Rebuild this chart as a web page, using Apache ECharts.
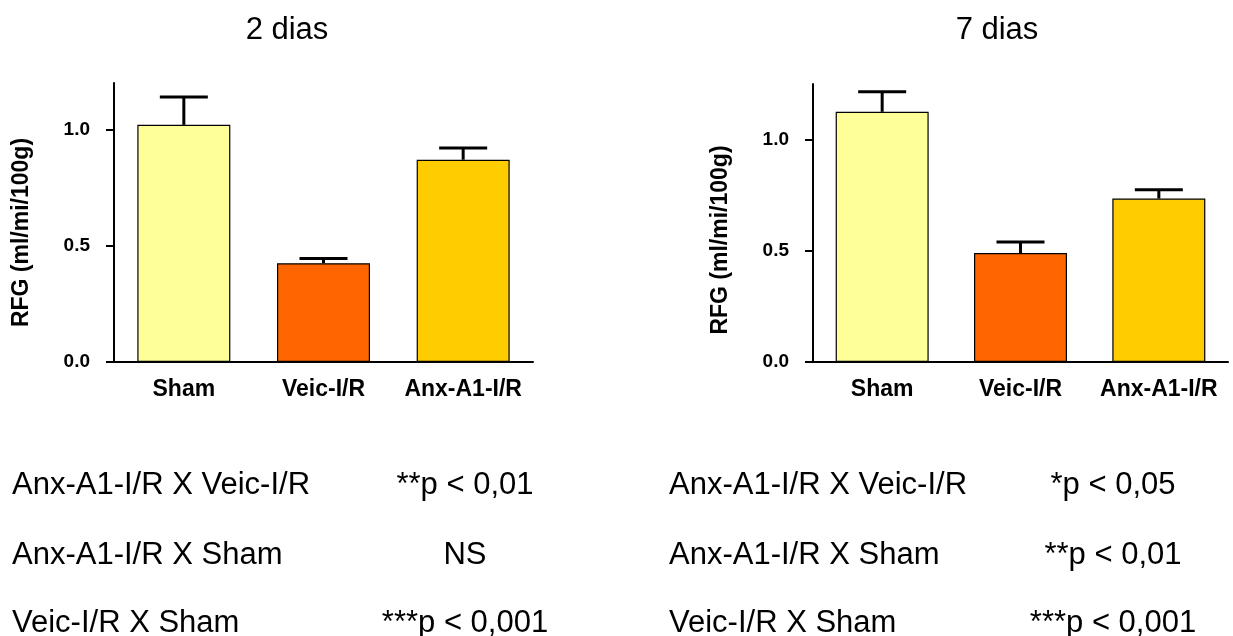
<!DOCTYPE html>
<html>
<head>
<meta charset="utf-8">
<script src="https://cdn.jsdelivr.net/npm/echarts@6/dist/echarts.min.js"></script>
<style>
  html, body { margin: 0; padding: 0; background: #fff; }
  #chart { width: 1233px; height: 636px; }
</style>
</head>
<body>
<div id="chart"></div>
<script>
// Groups and measured glomerular filtration rate (mean and SEM)
const categories = ['Sham', 'Veic-I/R', 'Anx-A1-I/R'];
const mean2d = [1.02, 0.425, 0.87];
const sem2d = [0.12, 0.02, 0.05];
const mean7d = [1.125, 0.49, 0.735];
const sem7d = [0.09, 0.05, 0.04];
const barColors = ['#FFFF99', '#FF6600', '#FFCC00'];
const yTicks = [0, 0.5, 1.0];
const panelTitles = ['2 dias', '7 dias'];
const yAxisName = 'RFG (ml/mi/100g)';

// Statistical comparisons listed below each panel
const comparisons = ['Anx-A1-I/R X Veic-I/R', 'Anx-A1-I/R X Sham', 'Veic-I/R X Sham'];
const pValues2d = ['**p < 0,01', 'NS', '***p < 0,001'];
const pValues7d = ['*p < 0,05', '**p < 0,01', '***p < 0,001'];

const FONT = "'Liberation Sans', Arial, Helvetica, sans-serif";

function renderErrorBar(params, api) {
  const base = api.coord([api.value(0), api.value(1)]);
  const top = api.coord([api.value(0), api.value(2)]);
  const half = 24;
  const style = { stroke: '#000', lineWidth: 3, fill: null };
  return {
    type: 'group',
    children: [
      { type: 'line', shape: { x1: base[0], y1: base[1], x2: top[0], y2: top[1] }, style: style },
      { type: 'line', shape: { x1: top[0] - half, y1: top[1], x2: top[0] + half, y2: top[1] }, style: style }
    ]
  };
}

function xAxisFor(gridIndex) {
  return {
    type: 'category',
    gridIndex: gridIndex,
    data: categories,
    axisLine: { lineStyle: { color: '#000', width: 2 } },
    axisTick: { show: false },
    axisLabel: {
      interval: 0, margin: 16, color: '#000',
      fontFamily: FONT, fontSize: 23, fontWeight: 'bold'
    }
  };
}

function yAxisFor(gridIndex, max, namePad) {
  return {
    type: 'value',
    gridIndex: gridIndex,
    min: 0,
    max: max,
    interval: 0.5,
    axisLine: { show: true, lineStyle: { color: '#000', width: 2 } },
    axisTick: { show: true, length: 8, customValues: yTicks, lineStyle: { color: '#000', width: 2 } },
    axisLabel: {
      customValues: yTicks,
      margin: 24, color: '#000',
      fontFamily: FONT, fontSize: 19, fontWeight: 'bold',
      formatter: v => v.toFixed(1)
    },
    splitLine: { show: false },
    name: yAxisName,
    nameLocation: 'middle',
    nameRotate: 90,
    nameGap: 81,
    nameTextStyle: {
      color: '#000', fontFamily: FONT, fontSize: 23, fontWeight: 'bold',
      padding: [0, namePad, 0, 0]
    }
  };
}

function barSeries(idx, means) {
  return {
    type: 'bar',
    xAxisIndex: idx, yAxisIndex: idx,
    barWidth: 93,
    data: means.map((v, i) => ({
      value: v,
      itemStyle: { color: barColors[i], borderColor: '#000', borderWidth: 1.2 }
    })),
    z: 2
  };
}

function errorSeries(idx, means, sems) {
  return {
    type: 'custom',
    xAxisIndex: idx, yAxisIndex: idx,
    renderItem: renderErrorBar,
    encode: { x: 0, y: [1, 2] },
    data: means.map((v, i) => [i, v, v + sems[i]]),
    z: 3
  };
}

function textRows(x, lines, align) {
  const rowY = [485, 555.5, 623.5];
  return lines.map((t, i) => ({
    type: 'text',
    x: x, y: rowY[i],
    style: {
      text: t, fill: '#000', font: '31px ' + FONT,
      align: align, verticalAlign: 'middle'
    }
  }));
}

function panelTitle(x, t) {
  return {
    type: 'text', x: x, y: 30,
    style: { text: t, fill: '#000', font: '31px ' + FONT, align: 'center', verticalAlign: 'middle' }
  };
}

const chart = echarts.init(document.getElementById('chart'), null, { renderer: 'canvas' });

chart.setOption({
  animation: false,
  backgroundColor: '#fff',
  grid: [
    { left: 114, right: 700, top: 83, bottom: 274 },
    { left: 813, right: 5, top: 84, bottom: 274 }
  ],
  xAxis: [xAxisFor(0), xAxisFor(1)],
  yAxis: [yAxisFor(0, 1.2, 20), yAxisFor(1, 1.25, 34)],
  series: [
    barSeries(0, mean2d),
    errorSeries(0, mean2d, sem2d),
    barSeries(1, mean7d),
    errorSeries(1, mean7d, sem7d)
  ],
  graphic: [
    panelTitle(287, panelTitles[0]),
    panelTitle(997, panelTitles[1]),
    ...textRows(12, comparisons, 'left'),
    ...textRows(465, pValues2d, 'center'),
    ...textRows(669, comparisons, 'left'),
    ...textRows(1113, pValues7d, 'center')
  ]
});
</script>
</body>
</html>
